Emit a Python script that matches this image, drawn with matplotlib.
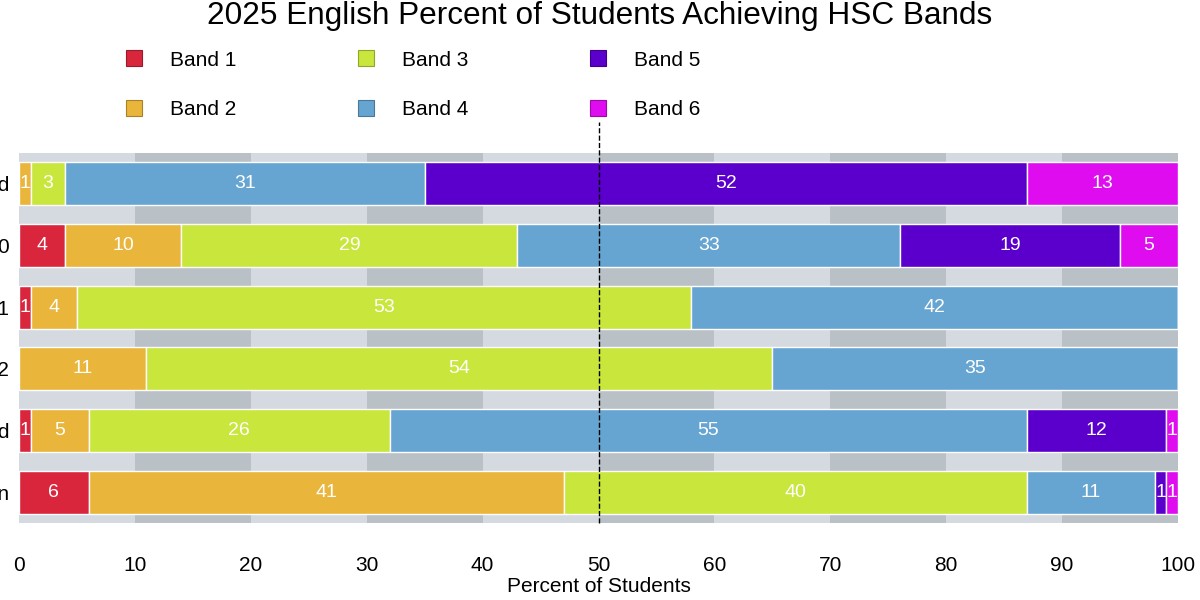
import matplotlib
matplotlib.use("Agg")
import matplotlib.pyplot as plt
from matplotlib.lines import Line2D
import numpy as np

plt.rcParams['font.family'] = ['Liberation Sans', 'DejaVu Sans']

title = "2025 English Percent of Students Achieving HSC Bands"
categories = ["English Advanced", "State Cohort 2020", "English Extension 1",
              "English Extension 2", "English Standard", "English Studies Population"]
bands = ["Band 1", "Band 2", "Band 3", "Band 4", "Band 5", "Band 6"]
band1 = [0, 4, 1, 0, 1, 6]
band2 = [1, 10, 4, 11, 5, 41]
band3 = [3, 29, 53, 54, 26, 40]
band4 = [31, 33, 42, 35, 55, 11]
band5 = [52, 19, 0, 0, 12, 1]
band6 = [13, 5, 0, 0, 1, 1]
colors = ["#d9263d", "#e9b53a", "#c8e63c", "#66a5d1", "#5b00cc", "#df0cef"]
edge_colors = ["#9a1a2b", "#a8822a", "#8ea62a", "#4a7896", "#3f0090", "#a008ad"]
xticks = [0, 10, 20, 30, 40, 50, 60, 70, 80, 90, 100]

series = [band1, band2, band3, band4, band5, band6]

fig = plt.figure(figsize=(12, 6), dpi=100)
ax = fig.add_axes([19/1200, 1 - 523/600, (1178-19)/1200, (523-153)/600])

# alternating background columns
for i in range(10):
    ax.axvspan(i*10, (i+1)*10, color="#d5d9e0" if i % 2 == 0 else "#b9c1c7",
               lw=0, zorder=0)

y = np.arange(len(categories))
left = np.zeros(len(categories))
for vals, name, c in zip(series, bands, colors):
    vals = np.array(vals, dtype=float)
    ax.barh(y, vals, left=left, height=0.7, color=c, edgecolor="white",
            linewidth=1, zorder=2, label=name)
    for yi, v, l in zip(y, vals, left):
        if v > 0:
            ax.text(l + v/2, yi, f"{int(v)}", ha="center", va="center",
                    color="white", fontsize=14, zorder=4)
    left = left + vals

ax.set_xlim(0, 100)
ax.set_ylim(len(categories) - 0.5, -0.5)
ax.set_yticks(y)
ax.set_yticklabels(categories, fontsize=15)
ax.set_xticks(xticks)
ax.set_xticklabels([str(t) for t in xticks], fontsize=15)
ax.tick_params(axis="both", length=0)
ax.tick_params(axis="x", pad=24)
ax.tick_params(axis="y", pad=7)
for s in ax.spines.values():
    s.set_visible(False)
ax.set_xlabel("Percent of Students", fontsize=15, labelpad=1)

ax.axvline(50, ymin=0, ymax=(523-122)/370, color="black", ls="--", lw=1,
           zorder=5, clip_on=False)

handles = [Line2D([], [], marker="s", ls="", markersize=11, markerfacecolor=c,
                  markeredgecolor=e, markeredgewidth=0.8)
           for c, e in zip(colors, edge_colors)]
fig.legend(handles, bands, loc="upper left", bbox_to_anchor=(105/1200, 1 - 32/600),
           ncol=3, frameon=False, fontsize=15, handlelength=1.0, handletextpad=1.2,
           columnspacing=5.75, labelspacing=1.45)

fig.suptitle(title, fontsize=22.7, y=1 - 1/600, va="top")

fig.savefig("out.png", dpi=100)
